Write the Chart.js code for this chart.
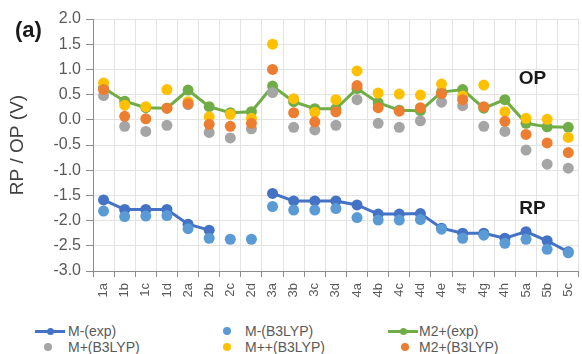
<!DOCTYPE html>
<html>
<head>
<meta charset="utf-8">
<script src="https://cdn.jsdelivr.net/npm/chart.js@4.4.1/dist/chart.umd.min.js"></script>
<style>
  html, body { margin: 0; padding: 0; background: #fff; overflow: hidden; }
  #wrap { position: relative; width: 590px; height: 354px; font-family: "Liberation Sans", Arial, sans-serif; }
  #chart { position: absolute; left: 0; top: 0; }
  .leg { position: absolute; font-size: 14px; color: #595959; line-height: 16px; white-space: nowrap; }
  .ln { position: absolute; height: 3px; width: 30px; }
  .dot { position: absolute; border-radius: 50%; }
</style>
</head>
<body>
<div id="wrap">
  <canvas id="chart" width="590" height="305"></canvas>
  <div id="legend"></div>
</div>
<script>
// Compounds along the x axis
const categories = ['1a','1b','1c','1d','2a','2b','2c','2d','3a','3b','3c','3d',
                    '4a','4b','4c','4d','4e','4f','4g','4h','5a','5b','5c'];

// Reduction potentials (V)
const mMinusExp   = [-1.59,-1.78,-1.78,-1.78,-2.07,-2.19,null,null,-1.46,-1.61,-1.61,-1.61,
                     -1.69,-1.87,-1.87,-1.86,-2.15,-2.25,-2.25,-2.35,-2.22,-2.40,-2.62];
const mMinusB3lyp = [-1.81,-1.92,-1.91,-1.90,-2.16,-2.35,-2.37,-2.37,-1.72,-1.79,-1.79,-1.76,
                     -1.94,-1.99,-1.99,-1.98,-2.17,-2.35,-2.29,-2.45,-2.37,-2.57,-2.64];

// Oxidation potentials (V)
const m2PlusExp   = [0.63,0.37,0.24,0.23,0.59,0.26,0.14,0.16,0.67,0.36,0.22,0.22,
                     0.62,0.34,0.19,0.18,0.55,0.60,0.23,0.40,-0.07,-0.14,-0.15];
const mPlusB3lyp  = [0.48,-0.13,-0.23,-0.11,0.30,-0.25,-0.36,-0.18,0.54,-0.15,-0.20,-0.11,
                     0.40,-0.07,-0.15,-0.02,0.35,0.28,-0.13,-0.23,-0.60,-0.88,-0.96];
const mPPB3lyp    = [0.73,0.29,0.26,0.60,0.36,0.06,0.11,0.03,1.50,0.42,0.15,0.40,
                     0.97,0.53,0.51,0.49,0.71,0.47,0.69,0.16,0.03,0.01,-0.35];
const m2PlusB3lyp = [0.60,0.07,0.02,0.23,0.32,-0.09,-0.13,-0.07,1.00,0.14,-0.04,0.16,
                     0.68,0.24,0.17,0.24,0.52,0.40,0.26,-0.03,-0.29,-0.46,-0.65];

// Y axis range and step
const yMin = -3.0, yMax = 2.0, yStep = 0.5;

const FONT = '"Liberation Sans", Arial, sans-serif';

const series = [
  { label: 'M-(exp)',     data: mMinusExp,   color: '#4472C4', line: true  },
  { label: 'M-(B3LYP)',   data: mMinusB3lyp, color: '#5B9BD5', line: false },
  { label: 'M2+(exp)',    data: m2PlusExp,   color: '#70AD47', line: true  },
  { label: 'M+(B3LYP)',   data: mPlusB3lyp,  color: '#A5A5A5', line: false },
  { label: 'M++(B3LYP)',  data: mPPB3lyp,    color: '#FFC000', line: false },
  { label: 'M2+(B3LYP)',  data: m2PlusB3lyp, color: '#ED7D31', line: false }
];

// later series are painted over earlier ones
const datasets = series.map((s, i) => ({
  label: s.label,
  data: s.data,
  order: series.length - i,
  showLine: s.line,
  spanGaps: false,
  borderColor: s.color,
  backgroundColor: s.color,
  borderWidth: 3,
  pointRadius: 5.5,
  pointHoverRadius: 5.5,
  pointBorderWidth: 0,
  pointBackgroundColor: s.color,
  tension: 0
}));

// panel letter and series-group labels
const labelPlugin = {
  id: 'labels',
  afterDatasetsDraw(chart) {
    const { ctx, scales: { x, y } } = chart;
    ctx.save();
    ctx.fillStyle = '#1a1a1a';
    ctx.textBaseline = 'middle';
    ctx.textAlign = 'left';
    ctx.font = 'bold 22px ' + FONT;
    ctx.fillText('(a)', 15, 31);
    ctx.textAlign = 'center';
    ctx.font = 'bold 19px ' + FONT;
    ctx.fillText('OP', x.getPixelForValue(20.3), y.getPixelForValue(0.81));
    ctx.fillText('RP', x.getPixelForValue(20.3), y.getPixelForValue(-1.77));
    ctx.restore();
  }
};

new Chart(document.getElementById('chart'), {
  type: 'line',
  data: { labels: categories, datasets },
  plugins: [labelPlugin],
  options: {
    responsive: false,
    animation: false,
    events: [],
    layout: { padding: { left: 0, right: 6, top: 19, bottom: 0 } },
    plugins: { legend: { display: false }, tooltip: { enabled: false } },
    scales: {
      x: {
        type: 'category',
        offset: true,
        grid: { offset: true, color: '#e3e3e3', lineWidth: 1, tickLength: 6, tickColor: '#8c8c8c', drawTicks: true },
        border: { color: '#8c8c8c', width: 1 },
        ticks: { color: '#595959', font: { family: FONT, size: 13 }, minRotation: 90, maxRotation: 90, autoSkip: false, padding: 6 },
        afterFit(scale) { scale.height = 34; }
      },
      y: {
        min: yMin, max: yMax,
        grid: { color: '#e3e3e3', lineWidth: 1, tickLength: 7, tickColor: '#8c8c8c' },
        border: { color: '#8c8c8c', width: 1 },
        ticks: { stepSize: yStep, color: '#595959', font: { family: FONT, size: 16 }, padding: 5,
                 callback: v => v.toFixed(1) },
        title: { display: true, text: 'RP / OP (V)', color: '#404040', font: { family: FONT, size: 19 }, padding: { top: 6, bottom: 0 } },
        afterFit(scale) { scale.width = 93; }
      }
    }
  }
});

// legend: three columns, two rows
const legendPos = [
  { x: 35,  y: 331, tx: 68 },
  { x: 227, y: 331, tx: 245 },
  { x: 388, y: 331, tx: 419 },
  { x: 48,  y: 347, tx: 68 },
  { x: 227, y: 347, tx: 245 },
  { x: 405, y: 347, tx: 419 }
];
const legend = document.getElementById('legend');
series.forEach((s, i) => {
  const p = legendPos[i];
  if (s.line) {
    const ln = document.createElement('div');
    ln.className = 'ln';
    ln.style.left = p.x + 'px';
    ln.style.top = (p.y - 1.5) + 'px';
    ln.style.background = s.color;
    legend.appendChild(ln);
    const d = document.createElement('div');
    d.className = 'dot';
    d.style.width = d.style.height = '7px';
    d.style.left = (p.x + 15 - 3.5) + 'px';
    d.style.top = (p.y - 3.5) + 'px';
    d.style.background = s.color;
    legend.appendChild(d);
  } else {
    const d = document.createElement('div');
    d.className = 'dot';
    d.style.width = d.style.height = '8px';
    d.style.left = (p.x - 4) + 'px';
    d.style.top = (p.y - 4) + 'px';
    d.style.background = s.color;
    legend.appendChild(d);
  }
  const t = document.createElement('div');
  t.className = 'leg';
  t.style.left = p.tx + 'px';
  t.style.top = (p.y - 8) + 'px';
  t.textContent = s.label;
  legend.appendChild(t);
});
</script>
</body>
</html>
